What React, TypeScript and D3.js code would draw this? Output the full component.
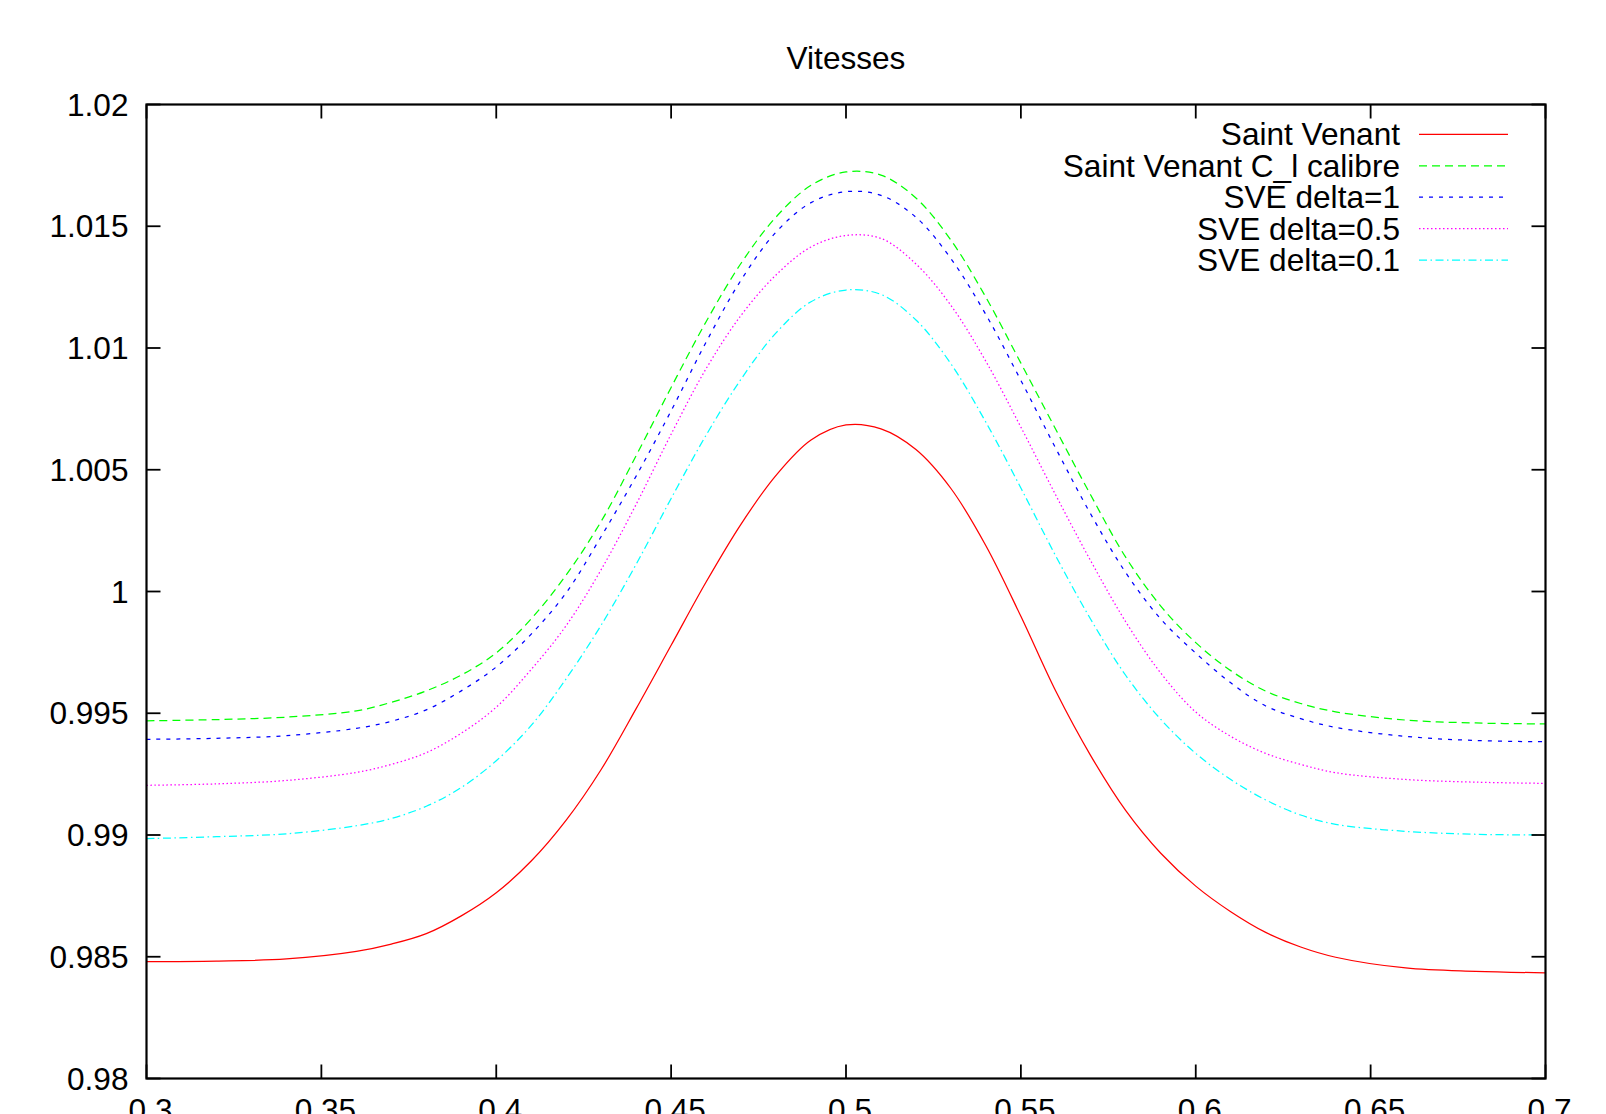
import React from 'react';
import * as d3 from 'd3';

const W = 1606;
const H = 1114;
const PL = 146.5, PR = 1545.5, PT = 104.5, PB = 1078.5;

const title = 'Vitesses';

const xs = [0.30, 0.32, 0.34, 0.36, 0.37, 0.38, 0.39, 0.40, 0.41, 0.42, 0.43, 0.44, 0.45, 0.46, 0.47, 0.48, 0.49, 0.50, 0.51, 0.52, 0.53, 0.54, 0.55, 0.56, 0.57, 0.58, 0.59, 0.60, 0.61, 0.62, 0.63, 0.64, 0.66, 0.68, 0.70];

const saintVenant = [0.98480, 0.98482, 0.98491, 0.98522, 0.98552, 0.98595, 0.98668, 0.98763, 0.98893, 0.99061, 0.99269, 0.99519, 0.99779, 1.00039, 1.00277, 1.00477, 1.00622, 1.00684, 1.00668, 1.00583, 1.00423, 1.00188, 0.99898, 0.99590, 0.99325, 0.99100, 0.98925, 0.98790, 0.98685, 0.98600, 0.98540, 0.98498, 0.98454, 0.98440, 0.98434];
const saintVenantCalibre = [0.99469, 0.99474, 0.99484, 0.99510, 0.99545, 0.99592, 0.99657, 0.99748, 0.99888, 1.00068, 1.00288, 1.00558, 1.00838, 1.01108, 1.01348, 1.01538, 1.01668, 1.01723, 1.01710, 1.01616, 1.01443, 1.01208, 1.00938, 1.00665, 1.00395, 1.00140, 0.99940, 0.99790, 0.99675, 0.99591, 0.99540, 0.99506, 0.99472, 0.99460, 0.99456];
const sveDelta1 = [0.99393, 0.99397, 0.99408, 0.99438, 0.99467, 0.99514, 0.99592, 0.99690, 0.99825, 0.99995, 1.00226, 1.00474, 1.00742, 1.01024, 1.01279, 1.01476, 1.01597, 1.01642, 1.01627, 1.01537, 1.01367, 1.01137, 1.00867, 1.00587, 1.00317, 1.00077, 0.99887, 0.99747, 0.99625, 0.99530, 0.99478, 0.99442, 0.99405, 0.99388, 0.99383];
const sveDelta05 = [0.99204, 0.99210, 0.99224, 0.99257, 0.99290, 0.99338, 0.99418, 0.99525, 0.99680, 0.99860, 1.00090, 1.00358, 1.00646, 1.00915, 1.01134, 1.01300, 1.01415, 1.01462, 1.01450, 1.01345, 1.01175, 1.00945, 1.00675, 1.00395, 1.00125, 0.99875, 0.99665, 0.99505, 0.99405, 0.99335, 0.99290, 0.99256, 0.99228, 0.99217, 0.99212];
const sveDelta01 = [0.98985, 0.98993, 0.99005, 0.99038, 0.99068, 0.99118, 0.99195, 0.99305, 0.99450, 0.99642, 0.99862, 1.00112, 1.00382, 1.00642, 1.00872, 1.01062, 1.01190, 1.01238, 1.01220, 1.01115, 1.00935, 1.00695, 1.00425, 1.00145, 0.99885, 0.99655, 0.99475, 0.99335, 0.99228, 0.99144, 0.99082, 0.99044, 0.99015, 0.99003, 0.99000];

const seriesNames = ['Saint Venant', 'Saint Venant C_l calibre', 'SVE delta=1', 'SVE delta=0.5', 'SVE delta=0.1'];
const seriesValues = [saintVenant, saintVenantCalibre, sveDelta1, sveDelta05, sveDelta01];
const seriesColors = ['#ff0000', '#00ff00', '#0000ff', '#ff00ff', '#00ffff'];
const seriesDash = ['none', '8,5', '4,6', '1.5,2.5', '8,3.5,1.5,3.5'];

const xTicks = [0.3, 0.35, 0.4, 0.45, 0.5, 0.55, 0.6, 0.65, 0.7];
const xTickLabels = ['0.3', '0.35', '0.4', '0.45', '0.5', '0.55', '0.6', '0.65', '0.7'];
const yTicks = [0.98, 0.985, 0.99, 0.995, 1.0, 1.005, 1.01, 1.015, 1.02];
const yTickLabels = ['0.98', '0.985', '0.99', '0.995', '1', '1.005', '1.01', '1.015', '1.02'];

const FONT = '"Liberation Sans", Arial, Helvetica, sans-serif';
const FS = 31.6;

export default function App() {
  const x = d3.scaleLinear().domain([0.3, 0.7]).range([PL, PR]);
  const y = d3.scaleLinear().domain([0.98, 1.02]).range([PB, PT]);
  const line = d3
    .line<number>()
    .x((_, i) => x(xs[i]))
    .y((d) => y(d))
    .curve(d3.curveCatmullRom.alpha(0.5));

  const tickLen = 14;
  const legendTextX = 1400;
  const legendLineX0 = 1419;
  const legendLineX1 = 1508;
  const legendY0 = 134.3;
  const legendDY = 31.45;

  return (
    <svg
      width={W}
      height={H}
      viewBox={`0 0 ${W} ${H}`}
      style={{ position: 'absolute', left: 0, top: 0, background: '#fff' }}
      fontFamily={FONT}
    >
      <rect x={0} y={0} width={W} height={H} fill="#fff" />
      <text x={846} y={69} fontSize={FS} textAnchor="middle" fill="#000">
        {title}
      </text>

      <g>
        {seriesValues.map((vals, i) => (
          <path
            key={seriesNames[i]}
            d={line(vals) || ''}
            fill="none"
            stroke={seriesColors[i]}
            strokeWidth={1.25}
            strokeDasharray={seriesDash[i]}
          />
        ))}
      </g>

      <g stroke="#000" strokeWidth={1.8}>
        {xTicks.map((t) => (
          <g key={'xt' + t}>
            <line x1={x(t)} x2={x(t)} y1={PB} y2={PB - tickLen} />
            <line x1={x(t)} x2={x(t)} y1={PT} y2={PT + tickLen} />
          </g>
        ))}
        {yTicks.map((t) => (
          <g key={'yt' + t}>
            <line x1={PL} x2={PL + tickLen} y1={y(t)} y2={y(t)} />
            <line x1={PR} x2={PR - tickLen} y1={y(t)} y2={y(t)} />
          </g>
        ))}
      </g>

      <rect x={PL} y={PT} width={PR - PL} height={PB - PT} fill="none" stroke="#000" strokeWidth={2.2} />

      <g fontSize={FS} fill="#000">
        {yTicks.map((t, i) => (
          <text key={'yl' + t} x={PL - 18} y={y(t) + 11} textAnchor="end">
            {yTickLabels[i]}
          </text>
        ))}
        {xTicks.map((t, i) => (
          <text key={'xl' + t} x={x(t) + 4} y={1121} textAnchor="middle">
            {xTickLabels[i]}
          </text>
        ))}
      </g>

      <g fontSize={FS} fill="#000">
        {seriesNames.map((name, i) => {
          const ly = legendY0 + i * legendDY;
          return (
            <g key={'lg' + name}>
              <text x={legendTextX} y={ly + 11} textAnchor="end">
                {name}
              </text>
              <line
                x1={legendLineX0}
                x2={legendLineX1}
                y1={ly}
                y2={ly}
                stroke={seriesColors[i]}
                strokeWidth={1.25}
                strokeDasharray={seriesDash[i]}
              />
            </g>
          );
        })}
      </g>
    </svg>
  );
}
